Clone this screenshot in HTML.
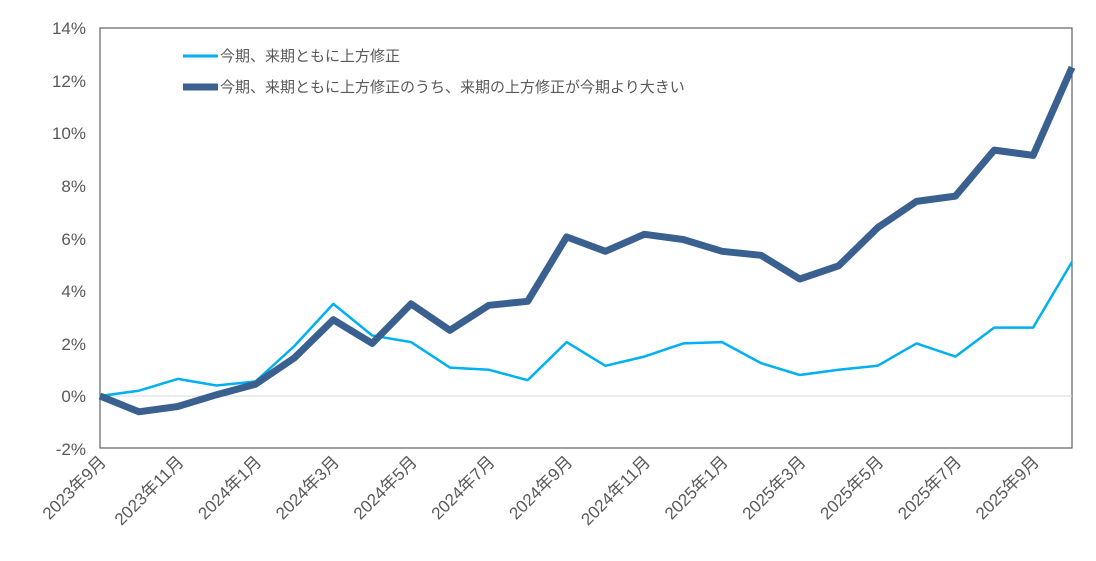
<!DOCTYPE html>
<html><head><meta charset="utf-8"><style>
body{margin:0;background:#fff;}
svg text{font-family:"Liberation Sans","Noto Sans CJK JP",sans-serif;fill:#595959;}
</style></head><body>
<svg width="1096" height="556" xmlns="http://www.w3.org/2000/svg">
<rect x="100" y="28" width="972" height="420" fill="none" stroke="#404040" stroke-width="1"/>
<line x1="100" y1="396" x2="1072" y2="396" stroke="#d9d9d9" stroke-width="1"/>
<g font-size="17" text-anchor="end">
<text x="86" y="34">14%</text><text x="86" y="87">12%</text><text x="86" y="139">10%</text>
<text x="86" y="192">8%</text><text x="86" y="245">6%</text><text x="86" y="297">4%</text>
<text x="86" y="350">2%</text><text x="86" y="402">0%</text><text x="86" y="455">-2%</text>
</g>
<g font-size="17" text-anchor="end" id="xl"></g>
<polyline id="l1" fill="none" stroke="#00b0f0" stroke-width="2.5" stroke-linejoin="round"/>
<polyline id="l2" fill="none" stroke="#3a6090" stroke-width="7" stroke-linejoin="round"/>
<line x1="183" y1="56" x2="218" y2="56" stroke="#00b0f0" stroke-width="3"/>
<text x="220" y="61" font-size="15">今期、来期ともに上方修正</text>
<line x1="183" y1="87" x2="218" y2="87" stroke="#3a6090" stroke-width="7"/>
<text x="220" y="92" font-size="15">今期、来期ともに上方修正のうち、来期の上方修正が今期より大きい</text>
</svg>
<script>
var a=[0,0.2,0.65,0.4,0.55,1.9,3.5,2.3,2.05,1.08,1.0,0.6,2.05,1.15,1.5,2.0,2.05,1.25,0.8,1.0,1.15,2.0,1.5,2.6,2.6,5.1];
var b=[0,-0.6,-0.4,0.05,0.45,1.45,2.9,2.0,3.5,2.5,3.45,3.6,6.05,5.5,6.15,5.95,5.5,5.35,4.45,4.95,6.4,7.4,7.6,9.35,9.15,12.5];
function p(d){return d.map(function(v,i){return (100+i*38.88).toFixed(1)+","+(396-v*26.3).toFixed(1)}).join(" ");}
document.getElementById("l1").setAttribute("points",p(a));
document.getElementById("l2").setAttribute("points",p(b));
var labs=["2023年9月","2023年11月","2024年1月","2024年3月","2024年5月","2024年7月","2024年9月","2024年11月","2025年1月","2025年3月","2025年5月","2025年7月","2025年9月"];
var g=document.getElementById("xl"),s="";
labs.forEach(function(l,k){var x=100+k*2*38.88+7,y=463;s+='<text x="'+x+'" y="'+y+'" transform="rotate(-45 '+x+' '+y+')">'+l+'</text>';});
g.innerHTML=s;
</script>
</body></html>
